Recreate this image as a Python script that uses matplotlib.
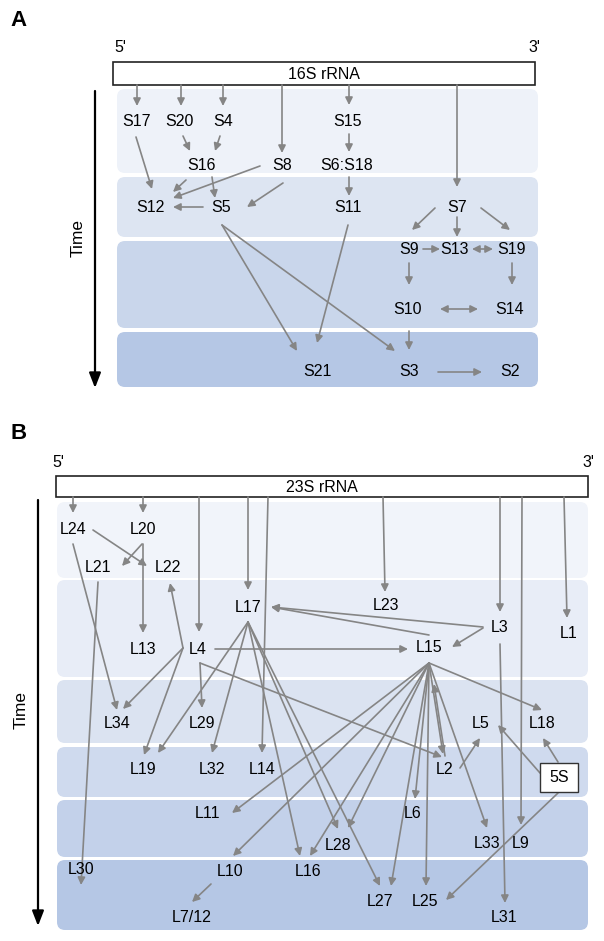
import matplotlib.pyplot as plt
from matplotlib.patches import FancyBboxPatch, FancyArrowPatch, Rectangle

plt.rcParams['font.family'] = ['Liberation Sans', 'DejaVu Sans']

# ---- panel A: 30S assembly map (pixel coordinates) ----
a_names = ['S17', 'S20', 'S4', 'S15', 'S16', 'S8', 'S6:S18', 'S12', 'S5', 'S11',
           'S7', 'S9', 'S13', 'S19', 'S10', 'S14', 'S21', 'S3', 'S2']
a_x = [137, 179, 223, 348, 202, 282, 347, 150, 221, 348,
       457, 409, 455, 512, 408, 510, 317, 409, 510]
a_y = [121, 121, 121, 121, 165, 165, 165, 207, 207, 207,
       207, 249, 249, 249, 309, 309, 372, 372, 372]

# arrows: (x0, y0, x1, y1)
a_arrows = [
    (137, 85, 137, 106), (181, 85, 181, 106), (223, 85, 223, 106),
    (282, 85, 282, 153), (349, 85, 349, 105), (457, 85, 457, 187),
    (183, 136, 190, 151), (220, 136, 215, 151), (349, 134, 349, 152),
    (136, 137, 152, 189), (186, 180, 173, 192), (260, 166, 173, 198),
    (212, 177, 215, 198), (283, 183, 247, 207), (203, 207, 173, 207),
    (349, 177, 349, 196),
    (435, 208, 412, 230), (457, 217, 457, 237), (481, 208, 510, 230),
    (423, 249, 440, 249), (409, 263, 409, 285), (512, 263, 512, 285),
    (409, 331, 409, 350), (438, 372, 482, 372),
    (222, 225, 297, 351), (222, 225, 395, 351), (348, 225, 317, 343),
]
a_double = [(472, 249, 493, 249), (440, 309, 478, 309)]

a_band_y = [(89, 173), (177, 237), (241, 328), (332, 387)]
a_band_col = ['#eef2f9', '#dde5f2', '#c9d6eb', '#b5c7e5']

# ---- panel B: 50S assembly map ----
b_names = ['L24', 'L20', 'L21', 'L22', 'L17', 'L23', 'L3', 'L1', 'L13', 'L4',
           'L15', 'L34', 'L29', 'L5', 'L18', 'L19', 'L32', 'L14', 'L2', 'L11',
           'L6', 'L28', 'L33', 'L9', 'L30', 'L10', 'L16', 'L27', 'L25',
           'L7/12', 'L31']
b_x = [73, 143, 98, 168, 248, 386, 500, 569, 143, 198,
       429, 117, 202, 481, 542, 143, 212, 262, 445, 208,
       413, 338, 487, 521, 81, 230, 308, 380, 425,
       192, 504]
b_y = [530, 530, 567, 567, 607, 606, 628, 633, 649, 650,
       648, 724, 723, 723, 723, 770, 770, 770, 770, 814,
       814, 846, 843, 843, 870, 871, 871, 901, 901,
       917, 918]

b_arrows = [
    # from the 23S rRNA
    (73, 497, 73, 513), (143, 497, 143, 513), (199, 497, 199, 632),
    (248, 497, 248, 590), (268, 497, 262, 753), (383, 497, 385, 592),
    (500, 497, 500, 612), (522, 497, 521, 825), (564, 497, 567, 618),
    # upper part
    (142, 544, 122, 566), (143, 544, 143, 633), (93, 530, 147, 566),
    (73, 544, 117, 710), (98, 582, 81, 885),
    (183, 648, 170, 583), (183, 648, 123, 709), (183, 648, 144, 755),
    (200, 663, 202, 708), (200, 663, 442, 757), (215, 649, 408, 649),
    (483, 627, 271, 607), (429, 635, 271, 607), (483, 628, 452, 647),
    (500, 644, 505, 903),
    # L17 fan
    (248, 622, 158, 753), (248, 622, 212, 753), (248, 622, 300, 856),
    (248, 622, 338, 829), (248, 622, 380, 886),
    # L15 fan
    (429, 663, 232, 813), (429, 663, 233, 856), (429, 663, 310, 856),
    (429, 663, 348, 828), (429, 663, 391, 886), (429, 663, 415, 799),
    (429, 663, 426, 886), (429, 663, 487, 828), (429, 663, 542, 710),
    (429, 663, 443, 754),
    # lower part
    (445, 756, 434, 684), (460, 768, 480, 738), (540, 773, 498, 725),
    (558, 762, 543, 738), (558, 793, 446, 900), (211, 884, 192, 902),
]

b_band_y = [(502, 578), (580, 677), (680, 743), (747, 797), (800, 857), (860, 930)]
b_band_col = ['#f1f4fa', '#e8edf7', '#dbe3f1', '#cfdaee', '#c3d1ea', '#b5c7e5']

GREY = '#858585'

fig = plt.figure(figsize=(6.04, 9.41), dpi=100)
ax = fig.add_axes([0, 0, 1, 1])
ax.set_xlim(0, 604)
ax.set_ylim(941, 0)
ax.axis('off')


def bands(x0, x1, ys, cols):
    for (y0, y1), c in zip(ys, cols):
        ax.add_patch(FancyBboxPatch((x0, y0), x1 - x0, y1 - y0,
                                    boxstyle='round,pad=0,rounding_size=8',
                                    fc=c, ec='none', zorder=0))


def arrow(x0, y0, x1, y1, style='-|>'):
    ax.add_patch(FancyArrowPatch((x0, y0), (x1, y1), arrowstyle=style,
                                 mutation_scale=11, color=GREY, lw=1.2,
                                 shrinkA=0, shrinkB=0, zorder=2))


def time_axis(x, y0, y1, ty):
    ax.add_patch(FancyArrowPatch((x, y0), (x, y1), arrowstyle='-|>,head_length=0.9,head_width=0.35',
                                 mutation_scale=10, color='black', lw=1.6,
                                 shrinkA=0, shrinkB=0))
    ax.text(x - 17, ty, 'Time', rotation=90, ha='center', va='center', fontsize=12.5)


lbl = dict(ha='center', va='center', fontsize=11.5, zorder=3)

# panel A
ax.text(10, 20, 'A', fontsize=16, fontweight='bold', va='center')
bands(117, 538, a_band_y, a_band_col)
ax.add_patch(Rectangle((113, 62), 422, 23, fc='white', ec='#222222', lw=1.2, zorder=1))
ax.text(324, 74, '16S rRNA', **lbl)
ax.text(114, 47, "5'", fontsize=11.5, va='center')
ax.text(528, 47, "3'", fontsize=11.5, va='center')
time_axis(95, 91, 388, 238)
for n, x, y in zip(a_names, a_x, a_y):
    ax.text(x, y, n, **lbl)
for a in a_arrows:
    arrow(*a)
for a in a_double:
    arrow(*a, style='<|-|>')

# panel B
ax.text(10, 433, 'B', fontsize=16, fontweight='bold', va='center')
bands(57, 588, b_band_y, b_band_col)
ax.add_patch(Rectangle((56, 476), 532, 21, fc='white', ec='#222222', lw=1.2, zorder=1))
ax.text(322, 487, '23S rRNA', **lbl)
ax.text(52, 462, "5'", fontsize=11.5, va='center')
ax.text(582, 462, "3'", fontsize=11.5, va='center')
time_axis(38, 500, 926, 710)
for n, x, y in zip(b_names, b_x, b_y):
    ax.text(x, y, n, **lbl)
ax.add_patch(Rectangle((540, 763), 38, 29, fc='white', ec='#333333', lw=1.0, zorder=3))
ax.text(559, 778, '5S', **lbl)
for a in b_arrows:
    arrow(*a)

fig.savefig('out.png', dpi=100)
